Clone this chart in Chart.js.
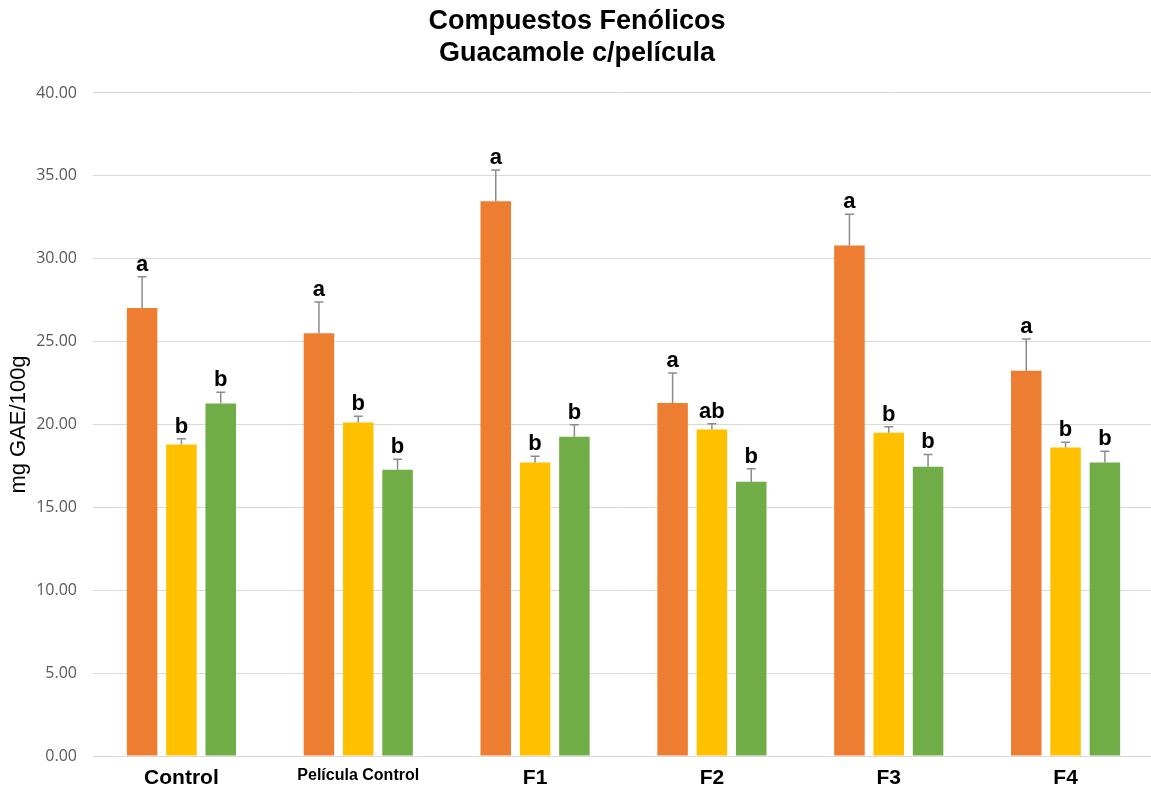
<!DOCTYPE html>
<html>
<head>
<meta charset="utf-8">
<script src="https://cdn.jsdelivr.net/npm/chart.js@4.4.0/dist/chart.umd.min.js"></script>
<style>
  html, body { margin: 0; padding: 0; background: #fff; overflow: hidden; }
  #wrap { width: 1154px; height: 791px; }
</style>
</head>
<body>
<div id="wrap"><canvas id="chart"></canvas></div>
<script>
// Data
const categories = ['Control', 'Película Control', 'F1', 'F2', 'F3', 'F4'];

const orangeValues = [27.03, 25.50, 33.47, 21.30, 30.80, 23.25];
const orangeErrors = [1.89, 1.89, 1.89, 1.81, 1.89, 1.91];
const orangeLetters = ['a', 'a', 'a', 'a', 'a', 'a'];

const yellowValues = [18.80, 20.12, 17.71, 19.70, 19.50, 18.61];
const yellowErrors = [0.34, 0.38, 0.38, 0.34, 0.36, 0.32];
const yellowLetters = ['b', 'b', 'b', 'ab', 'b', 'b'];

const greenValues = [21.27, 17.27, 19.26, 16.55, 17.45, 17.71];
const greenErrors = [0.68, 0.64, 0.72, 0.78, 0.74, 0.68];
const greenLetters = ['b', 'b', 'b', 'b', 'b', 'b'];

const yTicks = [0, 5, 10, 15, 20, 25, 30, 35, 40];

// Error bars (upward only) and significance letters, drawn via the chart's scales
const errorBarsPlugin = {
    id: 'errorBars',
    afterDatasetsDraw(chart) {
        const ctx = chart.ctx;
        const yScale = chart.scales.y;
        chart.data.datasets.forEach((ds, di) => {
            const meta = chart.getDatasetMeta(di);
            meta.data.forEach((bar, i) => {
                const x = bar.x;
                const yTop = yScale.getPixelForValue(ds.data[i] + ds.errors[i]);
                const yVal = yScale.getPixelForValue(ds.data[i]);
                ctx.save();
                ctx.strokeStyle = '#8c8c8c';
                ctx.lineWidth = 1.5;
                ctx.beginPath();
                ctx.moveTo(x, yVal);
                ctx.lineTo(x, yTop);
                ctx.moveTo(x - 4.5, yTop);
                ctx.lineTo(x + 4.5, yTop);
                ctx.stroke();

                ctx.fillStyle = '#000';
                ctx.font = 'bold 22px "Liberation Sans", Arial, sans-serif';
                ctx.textAlign = 'center';
                ctx.textBaseline = 'alphabetic';
                ctx.fillText(ds.letters[i], x, yTop - 6);
                ctx.restore();
            });
        });
    }
};

const ctx = document.getElementById('chart').getContext('2d');
new Chart(ctx, {
    type: 'bar',
    data: {
        labels: categories,
        datasets: [
            { data: orangeValues, errors: orangeErrors, letters: orangeLetters, backgroundColor: '#ED7D31' },
            { data: yellowValues, errors: yellowErrors, letters: yellowLetters, backgroundColor: '#FFC000' },
            { data: greenValues, errors: greenErrors, letters: greenLetters, backgroundColor: '#70AD47' },
        ]
    },
    options: {
        responsive: true,
        maintainAspectRatio: false,
        animation: false,
        categoryPercentage: 0.667,
        barPercentage: 0.776,
        layout: { padding: { left: 0, right: 0, top: 0, bottom: 0 } },
        plugins: {
            legend: { display: false },
            tooltip: { enabled: false },
            title: {
                display: true,
                text: ['Compuestos Fenólicos', 'Guacamole c/película'],
                color: '#000',
                font: { family: '"Liberation Sans", Arial, sans-serif', size: 27, weight: 'bold', lineHeight: 1.185 },
                padding: { top: 6, bottom: 23 },
            }
        },
        scales: {
            x: {
                grid: { display: false, drawTicks: false },
                border: { display: true, color: '#d9d9d9', width: 1 },
                ticks: {
                    color: '#000',
                    padding: 10,
                    font: (c) => ({
                        family: '"Liberation Sans", Arial, sans-serif',
                        weight: 'bold',
                        size: c.index === 1 ? 16 : 21,
                    }),
                },
                afterFit(scale) { scale.height = 35; },
            },
            y: {
                min: 0,
                max: 40,
                afterBuildTicks(scale) { scale.ticks = yTicks.map(v => ({ value: v })); },
                grid: { color: '#d9d9d9', lineWidth: 1, drawTicks: false },
                border: { display: false },
                ticks: {
                    color: '#595959',
                    padding: 16,
                    font: { family: '"Open Sans", sans-serif', size: 16 },
                    callback: (v) => Number(v).toFixed(2),
                },
                title: {
                    display: true,
                    text: 'mg GAE/100g',
                    color: '#000',
                    font: { family: '"Liberation Sans", Arial, sans-serif', size: 22 },
                    padding: { top: 6, bottom: 0 },
                },
                afterFit(scale) { scale.width = 93; },
            }
        }
    },
    plugins: [errorBarsPlugin]
});
</script>
</body>
</html>
